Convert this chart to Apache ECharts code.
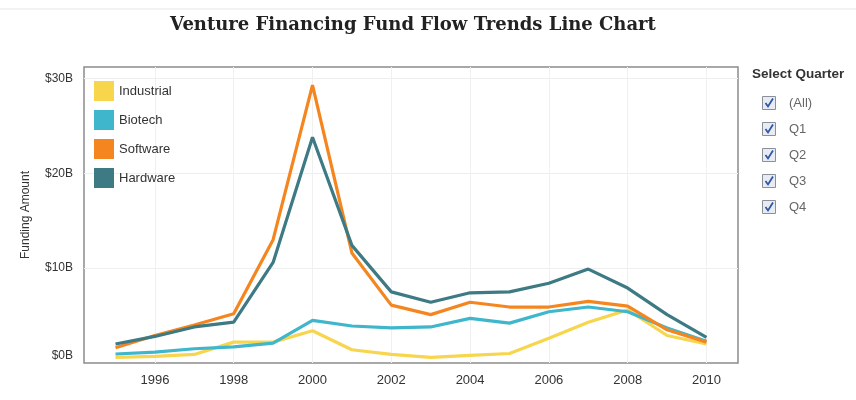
<!DOCTYPE html>
<html>
<head>
<meta charset="utf-8">
<script src="https://cdn.jsdelivr.net/npm/echarts@6/dist/echarts.min.js"></script>
<style>html,body{margin:0;padding:0;background:#fff}#c{width:856px;height:400px}</style>
</head>
<body>
<div id="c"></div>
<script>
const years = [1995,1996,1997,1998,1999,2000,2001,2002,2003,2004,2005,2006,2007,2008,2009,2010];
const industrial = [0.6,0.7,0.9,2.2,2.2,3.4,1.4,0.9,0.6,0.8,1.0,2.6,4.3,5.6,2.9,2.0];
const biotech    = [0.95,1.15,1.5,1.7,2.1,4.5,3.9,3.7,3.8,4.7,4.2,5.4,5.9,5.4,3.7,2.3];
const software   = [1.6,2.9,4.0,5.2,13.0,29.3,11.6,6.1,5.1,6.4,5.9,5.9,6.5,6.0,3.5,2.2];
const hardware   = [2.0,2.8,3.8,4.3,10.6,23.8,12.4,7.5,6.4,7.4,7.5,8.4,9.9,7.9,5.1,2.7];
const xTicks = [1996,1998,2000,2002,2004,2006,2008,2010];
const yTicks = [0,10,20,30];
const quarters = ['(All)','Q1','Q2','Q3','Q4'];
const seriesNames = ['Industrial','Biotech','Software','Hardware'];
const colors = ['#F7D64E','#3FB6CB','#F5861F','#3D7A84'];

const pair = arr => years.map((y,i)=>[y,arr[i]]);
const vals = [industrial,biotech,software,hardware];

const graphics = [];
graphics.push({type:'line', shape:{x1:0,y1:9,x2:856,y2:9}, style:{stroke:'#e6e6e6',lineWidth:1}});
graphics.push({type:'text', left:752, top:67, style:{text:'Select Quarter', font:'bold 13.5px "Liberation Sans", Arial', fill:'#333'}});
quarters.forEach((q,i)=>{
  const cy = 103 + i*26;
  graphics.push({type:'rect', shape:{x:762.5,y:cy-6.5,width:13,height:13}, style:{fill:'#e8ecf2', stroke:'#8a8f98', lineWidth:1}});
  graphics.push({type:'polyline', shape:{points:[[765.5,cy],[768,cy+3.5],[773,cy-4.5]]}, style:{stroke:'#2f57a8', lineWidth:1.8, fill:null}});
  graphics.push({type:'text', left:789, top:cy-6, style:{text:q, font:'13px "Liberation Sans", Arial', fill:'#666'}});
});

const chart = echarts.init(document.getElementById('c'), null, {renderer:'canvas'});
chart.setOption({
  animation:false,
  backgroundColor:'#fff',
  title:{text:'Venture Financing Fund Flow Trends Line Chart', left:408, textAlign:'center', top:11,
    textStyle:{fontFamily:'"DejaVu Serif", serif', fontWeight:'bold', fontSize:18, color:'#222'}},
  legend:{data:seriesNames, orient:'vertical', left:89, top:76, icon:'rect', itemWidth:20, itemHeight:20, itemGap:9,
    textStyle:{fontFamily:'"Liberation Sans", Arial', fontSize:13, color:'#333'}},
  grid:{left:84, right:118, top:67, bottom:37, show:true, borderColor:'#8c8c8c', borderWidth:1.5, containLabel:false},
  xAxis:{type:'value', min:1994.2, max:2010.8,
    axisLine:{show:false}, axisTick:{show:false, customValues:xTicks},
    splitLine:{show:true, lineStyle:{color:'#f0f0f0', width:1}},
    axisLabel:{customValues:xTicks, margin:11, fontFamily:'"Liberation Sans", Arial', fontSize:13, color:'#333', formatter:v=>String(v)}},
  yAxis:{type:'value', min:0, max:31.2, name:'Funding Amount', nameLocation:'middle', nameGap:52,
    nameTextStyle:{fontFamily:'"Liberation Sans", Arial', fontSize:12, color:'#333'},
    axisLine:{show:false}, axisTick:{show:false, customValues:[10,20,30]},
    splitLine:{show:true, lineStyle:{color:'#eeeeee', width:1}},
    axisLabel:{customValues:yTicks, margin:11, fontFamily:'"Liberation Sans", Arial', fontSize:12, color:'#333',
      formatter:v=> v===0 ? '{z|$0B}' : '$'+v+'B',
      rich:{z:{fontFamily:'"Liberation Sans", Arial', fontSize:12, color:'#333', padding:[0,0,14,0]}}}},
  series: seriesNames.map((n,i)=>({name:n, type:'line', data:pair(vals[i]), showSymbol:false, symbol:'none',
    lineStyle:{width:3.2, color:colors[i]}, itemStyle:{color:colors[i]}, z:2+i})),
  graphic: graphics
});
</script>
</body>
</html>
